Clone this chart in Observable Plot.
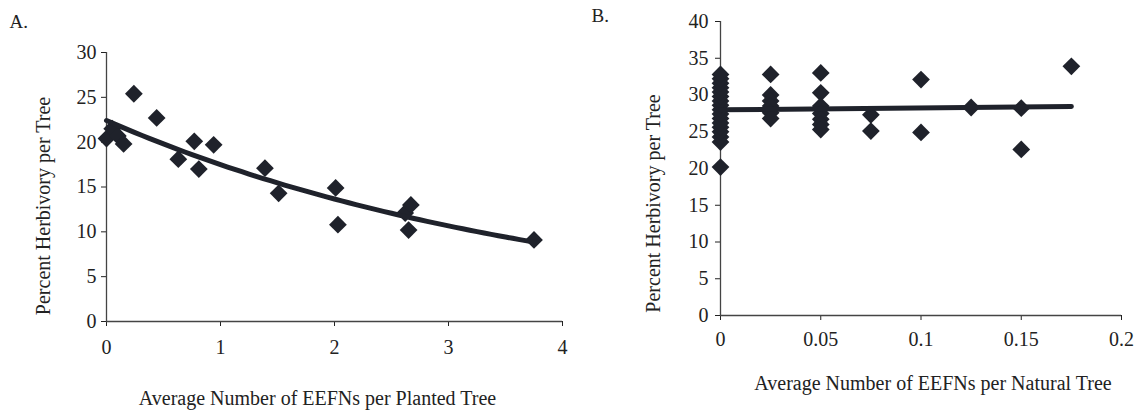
<!DOCTYPE html>
<html>
<head>
<meta charset="utf-8">
<script src="https://cdn.jsdelivr.net/npm/d3@7"></script>
<script src="https://cdn.jsdelivr.net/npm/@observablehq/plot@0.6"></script>
<style>
  body { margin: 0; background: #fff; }
  #wrap { position: relative; width: 1140px; height: 413px; overflow: hidden; background: #fff; }
  #wrap svg { position: absolute; top: 0; }
</style>
</head>
<body>
<div id="wrap"></div>
<script>
// A. Planted trees: mean extrafloral nectary count vs. leaf herbivory
const plantedEEFN      = [0, 0.05, 0.10, 0.15, 0.24, 0.44, 0.63, 0.77, 0.81, 0.94, 1.39, 1.51, 2.01, 2.03, 2.62, 2.67, 2.65, 3.75];
const plantedHerbivory = [20.4, 21.5, 20.7, 19.8, 25.4, 22.7, 18.1, 20.1, 17.0, 19.7, 17.1, 14.3, 14.9, 10.8, 12.1, 13.0, 10.2, 9.1];

// B. Natural trees
const naturalEEFN = [
  0, 0, 0, 0, 0, 0, 0, 0, 0, 0, 0, 0, 0, 0, 0, 0, 0,
  0.025, 0.025, 0.025, 0.025, 0.025, 0.025,
  0.05, 0.05, 0.05, 0.05, 0.05, 0.05, 0.05,
  0.075, 0.075,
  0.1, 0.1,
  0.125,
  0.15, 0.15,
  0.175
];
const naturalHerbivory = [
  20.2, 23.6, 24.3, 25.0, 25.6, 26.2, 26.8, 27.4, 28.0, 28.6, 29.2, 29.8, 30.4, 31.0, 31.6, 32.2, 32.8,
  32.8, 30.0, 29.2, 28.5, 27.6, 26.8,
  33.0, 30.3, 28.5, 27.5, 26.7, 26.0, 25.3,
  27.3, 25.1,
  32.1, 24.9,
  28.3,
  28.2, 22.6,
  33.9
];

const ticksAx = [0, 1, 2, 3, 4];
const ticksAy = [0, 5, 10, 15, 20, 25, 30];
const ticksBx = [0, 0.05, 0.1, 0.15, 0.2];
const ticksBy = [0, 5, 10, 15, 20, 25, 30, 35, 40];

const ink = "#1f222b";

// least-squares exponential trend (fit on log y)
function expTrend(xs, ys) {
  const ly = ys.map(Math.log);
  const mx = d3.mean(xs), my = d3.mean(ly);
  const b = d3.sum(xs, (x, i) => (x - mx) * (ly[i] - my)) / d3.sum(xs, x => (x - mx) ** 2);
  const a = Math.exp(my - b * mx);
  return x => a * Math.exp(b * x);
}
// least-squares linear trend
function linTrend(xs, ys) {
  const mx = d3.mean(xs), my = d3.mean(ys);
  const b = d3.sum(xs, (x, i) => (x - mx) * (ys[i] - my)) / d3.sum(xs, x => (x - mx) ** 2);
  return x => my + b * (x - mx);
}

const rowsA = plantedEEFN.map((x, i) => ({x, y: plantedHerbivory[i]}));
const rowsB = naturalEEFN.map((x, i) => ({x, y: naturalHerbivory[i]}));

const fA = expTrend(plantedEEFN, plantedHerbivory);
const xMaxA = d3.max(plantedEEFN);
const trendA = d3.range(0, 61).map(i => { const x = xMaxA * i / 60; return {x, y: fA(x)}; });

const fB = linTrend(naturalEEFN, naturalHerbivory);
const xMaxB = d3.max(naturalEEFN);
const trendB = [0, xMaxB].map(x => ({x, y: fB(x)}));

const svgStyle = "font-family: 'Liberation Serif', 'Times New Roman', serif; font-size: 20px; color: #222; background: transparent; overflow: visible;";

const panelA = Plot.plot({
  style: svgStyle,
  width: 600, height: 413,
  marginLeft: 106, marginRight: 38, marginTop: 52, marginBottom: 92,
  x: {domain: [0, 4], ticks: ticksAx, tickSize: 5, tickPadding: 13, label: null, tickFormat: d => String(d)},
  y: {domain: [0, 30], ticks: ticksAy, tickSize: 5, tickPadding: 5, label: null, tickFormat: d => String(d)},
  marks: [
    Plot.ruleX([0], {stroke: "#444", strokeWidth: 1.3}),
    Plot.ruleY([0], {stroke: "#444", strokeWidth: 1.3}),
    Plot.dot(rowsA, {x: "x", y: "y", symbol: "diamond2", r: 8, fill: ink, stroke: "none"}),
    Plot.line(trendA, {x: "x", y: "y", stroke: ink, strokeWidth: 5}),
    Plot.text(["Percent Herbivory per Tree"], {frameAnchor: "left", textAnchor: "middle", lineAnchor: "middle", dx: -63, dy: 19, rotate: -90, fontSize: 20, fill: "#222"}),
    Plot.text(["Average Number of EEFNs per Planted Tree"], {frameAnchor: "bottom", textAnchor: "middle", lineAnchor: "middle", dx: -17, dy: 77, fontSize: 20, fill: "#222"}),
    Plot.text(["A."], {frameAnchor: "top-left", textAnchor: "start", lineAnchor: "middle", dx: -97, dy: -31, fontSize: 19, fill: "#222"})
  ]
});
panelA.style.left = "0px";

const panelB = Plot.plot({
  style: svgStyle,
  width: 540, height: 413,
  marginLeft: 120, marginRight: 19, marginTop: 21, marginBottom: 98,
  x: {domain: [0, 0.2], ticks: ticksBx, tickSize: 5, tickPadding: 11, label: null, tickFormat: d => String(d)},
  y: {domain: [0, 40], ticks: ticksBy, tickSize: 5, tickPadding: 7, label: null, tickFormat: d => String(d)},
  marks: [
    Plot.ruleX([0], {stroke: "#444", strokeWidth: 1.3}),
    Plot.ruleY([0], {stroke: "#444", strokeWidth: 1.3}),
    Plot.dot(rowsB, {x: "x", y: "y", symbol: "diamond2", r: 8, fill: ink, stroke: "none"}),
    Plot.line(trendB, {x: "x", y: "y", stroke: ink, strokeWidth: 5}),
    Plot.text(["Percent Herbivory per Tree"], {frameAnchor: "left", textAnchor: "middle", lineAnchor: "middle", dx: -67, dy: 35, rotate: -90, fontSize: 20, fill: "#222"}),
    Plot.text(["Average Number of EEFNs per Natural Tree"], {frameAnchor: "bottom", textAnchor: "middle", lineAnchor: "middle", dx: 12, dy: 68, fontSize: 20, fill: "#222"}),
    Plot.text(["B."], {frameAnchor: "top-left", textAnchor: "start", lineAnchor: "middle", dx: -129, dy: -6, fontSize: 19, fill: "#222"})
  ]
});
panelB.style.left = "600px";

const wrap = document.getElementById("wrap");
wrap.appendChild(panelA);
wrap.appendChild(panelB);
</script>
</body>
</html>
